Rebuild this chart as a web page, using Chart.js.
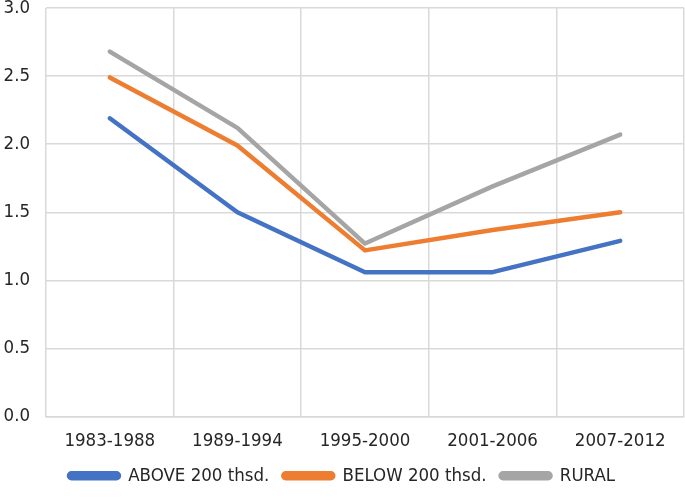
<!DOCTYPE html>
<html>
<head>
<meta charset="utf-8">
<script src="https://cdn.jsdelivr.net/npm/chart.js@4"></script>
<style>
  html, body { margin: 0; padding: 0; background: #fff; }
  #wrap { width: 685px; height: 498px; }
</style>
</head>
<body>
<div id="wrap"><canvas id="myChart"></canvas></div>
<script>
var periods = ['1983-1988', '1989-1994', '1995-2000', '2001-2006', '2007-2012'];
var above = [2.19, 1.50, 1.06, 1.06, 1.29];
var below = [2.49, 1.99, 1.22, 1.37, 1.50];
var rural = [2.68, 2.12, 1.27, 1.69, 2.07];
var yTicks = [0, 0.5, 1, 1.5, 2, 2.5, 3];

var font = "'Liberation Sans Narrow', 'DejaVu Sans Condensed', sans-serif";

var ctx = document.getElementById('myChart').getContext('2d');
var myChart = new Chart(ctx, {
    type: 'line',
    data: {
        labels: periods,
        datasets: [{
            label: 'ABOVE 200 thsd.',
            data: above,
            borderColor: '#4472C4',
            backgroundColor: '#4472C4',
            borderWidth: 4.5
        },
        {
            label: 'BELOW 200 thsd.',
            data: below,
            borderColor: '#ED7D31',
            backgroundColor: '#ED7D31',
            borderWidth: 4.5
        },
        {
            label: 'RURAL',
            data: rural,
            borderColor: '#A5A5A5',
            backgroundColor: '#A5A5A5',
            borderWidth: 4.5
        }]
    },
    options: {
        responsive: true,
        maintainAspectRatio: false,
        animation: false,
        elements: {
            point: { radius: 0, hoverRadius: 0 },
            line: { tension: 0, borderCapStyle: 'round', borderJoinStyle: 'round' }
        },
        layout: { padding: { top: 0, right: 1, bottom: 3, left: 0 } },
        plugins: {
            tooltip: { enabled: false },
            legend: {
                position: 'bottom',
                labels: {
                    boxWidth: 50,
                    boxHeight: 5,
                    useBorderRadius: true,
                    borderRadius: 2.5,
                    padding: 14,
                    color: '#262626',
                    font: { family: font, size: 18.5 }
                }
            }
        },
        scales: {
            x: {
                offset: true,
                grid: { offset: true, color: '#D9D9D9', lineWidth: 1.5, drawTicks: false },
                border: { color: '#D9D9D9', width: 1.5 },
                ticks: { color: '#262626', padding: 14, maxRotation: 0, font: { family: font, size: 18.5 } },
                afterFit: function (axis) { axis.height = 36; }
            },
            y: {
                min: 0,
                max: 3,
                afterBuildTicks: function (axis) {
                    axis.ticks = yTicks.map(function (v) { return { value: v }; });
                },
                grid: { color: '#D9D9D9', lineWidth: 1.5, drawTicks: false },
                border: { display: false },
                ticks: {
                    color: '#262626',
                    padding: 16,
                    font: { family: font, size: 18.5 },
                    callback: function (v) { return v.toFixed(1); }
                },
                afterFit: function (axis) {
                    axis.width = 46;
                    axis.paddingTop = 8;
                    axis.paddingBottom = 0;
                }
            }
        }
    }
});
</script>
</body>
</html>
